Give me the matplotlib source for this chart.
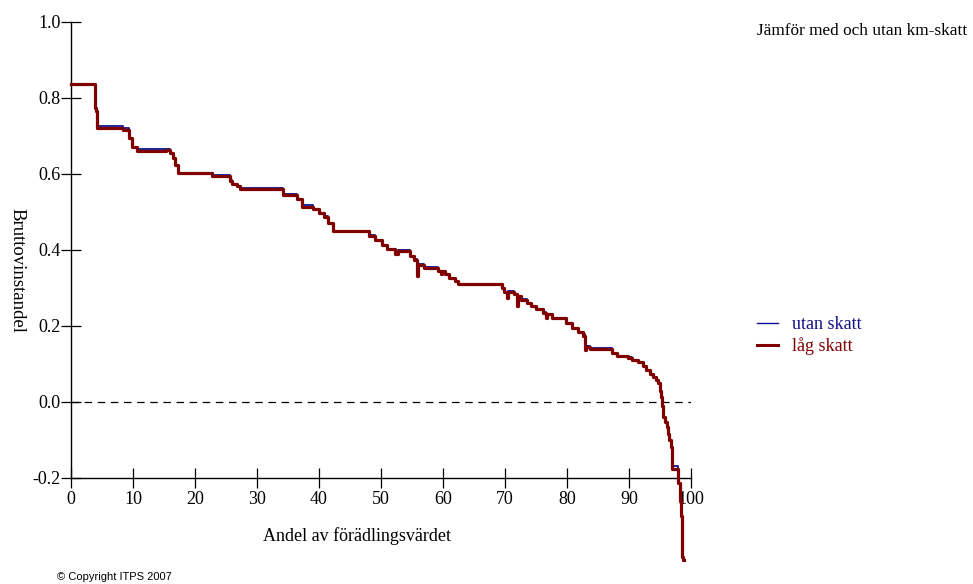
import numpy as np
import matplotlib
matplotlib.use('Agg')
import matplotlib.pyplot as plt
from matplotlib.lines import Line2D

plt.rcParams['font.family'] = ['Liberation Serif', 'DejaVu Serif']

# andel av förädlingsvärdet (%), start of each step
andel = [0, 3.9, 4.1, 4.25, 8.4, 9.35, 9.9, 10.7, 15.4, 16.0, 16.5, 16.8, 17.3,
         22.7, 25.6, 26.0, 26.7, 27.3, 34.2, 36.4, 37.3, 39.1, 40.0, 40.8, 41.5,
         42.3, 48.0, 49.0, 50.1, 51.0, 52.3, 52.8, 54.7, 55.3, 55.8, 55.95, 57.0,
         59.2, 59.6, 59.8, 60.3, 61.0, 61.9, 62.5, 69.5, 69.9, 70.3, 70.5, 71.4,
         71.9, 72.05, 72.6, 73.5, 74.2, 75.0, 76.2, 76.6, 76.75, 77.5, 79.9, 80.8,
         81.7, 82.6, 82.9, 83.1, 83.7, 87.2, 88.1, 89.9, 90.5, 91.5, 92.3, 92.8,
         93.4, 93.9, 94.3, 94.7, 95.0, 95.2, 95.4, 95.5, 95.8, 96.1, 96.3, 96.5,
         96.7, 96.9, 97.0, 97.95, 98.2, 98.4, 98.5, 98.6, 98.75, 98.8]

lag_skatt = [0.836, 0.775, 0.765, 0.722, 0.716, 0.694, 0.672, 0.661, 0.663, 0.655,
             0.642, 0.624, 0.602, 0.595, 0.582, 0.575, 0.568, 0.560, 0.545, 0.533,
             0.514, 0.507, 0.498, 0.488, 0.470, 0.450, 0.437, 0.426, 0.413, 0.402,
             0.390, 0.397, 0.385, 0.374, 0.332, 0.361, 0.352, 0.345, 0.336, 0.345,
             0.337, 0.326, 0.318, 0.311, 0.300, 0.290, 0.275, 0.290, 0.285, 0.253,
             0.278, 0.268, 0.260, 0.252, 0.246, 0.235, 0.222, 0.232, 0.220, 0.207,
             0.195, 0.183, 0.175, 0.137, 0.146, 0.139, 0.128, 0.121, 0.116, 0.110,
             0.106, 0.095, 0.084, 0.075, 0.066, 0.058, 0.049, 0.030, 0.012, -0.010,
             -0.039, -0.052, -0.065, -0.085, -0.100, -0.118, -0.135, -0.175, -0.214,
             -0.260, -0.300, -0.350, -0.407, -0.416, -0.416]

utan_skatt = [0.836, 0.775, 0.765, 0.727, 0.720, 0.694, 0.672, 0.665, 0.665, 0.655,
              0.642, 0.624, 0.602, 0.598, 0.584, 0.575, 0.568, 0.563, 0.547, 0.533,
              0.519, 0.507, 0.498, 0.490, 0.470, 0.450, 0.440, 0.426, 0.413, 0.402,
              0.392, 0.399, 0.385, 0.376, 0.332, 0.363, 0.354, 0.345, 0.336, 0.345,
              0.337, 0.326, 0.318, 0.311, 0.300, 0.290, 0.275, 0.292, 0.285, 0.253,
              0.280, 0.270, 0.260, 0.252, 0.246, 0.237, 0.222, 0.232, 0.220, 0.207,
              0.195, 0.183, 0.178, 0.137, 0.148, 0.141, 0.128, 0.121, 0.118, 0.110,
              0.106, 0.095, 0.084, 0.075, 0.066, 0.058, 0.049, 0.030, 0.012, -0.010,
              -0.039, -0.052, -0.065, -0.085, -0.100, -0.118, -0.135, -0.168, -0.214,
              -0.260, -0.300, -0.350, -0.407, -0.416, -0.416]

xticks = [0, 10, 20, 30, 40, 50, 60, 70, 80, 90, 100]
yticks = [-0.2, 0.0, 0.2, 0.4, 0.6, 0.8, 1.0]

blue = '#10108a'
red = '#800000'

W, H = 973, 584
fig = plt.figure(figsize=(W / 100, H / 100), dpi=100)
ax = fig.add_axes([71 / W, 1 - 478 / H, 620 / W, 456 / H])

ax.set_xlim(0, 100)
ax.set_ylim(-0.2, 1.0)
ax.spines['top'].set_visible(False)
ax.spines['right'].set_visible(False)
ax.spines['left'].set_linewidth(1.0)
ax.spines['bottom'].set_linewidth(1.0)
ax.set_xticks(xticks)
ax.set_yticks(yticks)
ax.set_xticklabels([str(v) for v in xticks])
ax.set_yticklabels(['%.1f' % v for v in yticks])
ax.tick_params(direction='inout', length=14, width=0.9, labelsize=13, pad=0.5)
ax.tick_params(axis='x', pad=2.5)

ax.plot([0, 100], [0, 0], ls=(0, (6, 4.5)), lw=0.9, color='black')
ax.plot(andel, utan_skatt, drawstyle='steps-post', lw=1.3, color=blue,
        clip_on=False, zorder=3)
ax.plot(andel, lag_skatt, drawstyle='steps-post', lw=2.3, color=red,
        clip_on=False, zorder=4)

fig.text(17 / W, 1 - 270 / H, 'Bruttovinstandel', rotation=270, fontsize=13.5,
         ha='center', va='center')
fig.text(357 / W, 1 - 536 / H, 'Andel av förädlingsvärdet', fontsize=13,
         ha='center', va='center')
fig.text(757 / W, 1 - 31 / H, 'Jämför med och utan km-skatt', fontsize=12.4,
         ha='left', va='center')
fig.text(57 / W, 1 - 577 / H, '© Copyright ITPS 2007', fontsize=8,
         family=['Liberation Sans', 'DejaVu Sans'], ha='left', va='center')

handles = [Line2D([], [], color=blue, lw=1.0), Line2D([], [], color=red, lw=2.2)]
leg = fig.legend(handles, ['utan skatt', 'låg skatt'], loc='upper left',
                 bbox_to_anchor=(757 / W, 1 - 316 / H), frameon=False,
                 fontsize=13, handlelength=1.15, handletextpad=0.8,
                 labelspacing=0.25, borderpad=0, borderaxespad=0,
                 labelcolor='linecolor')

fig.savefig('out.png', dpi=100)
